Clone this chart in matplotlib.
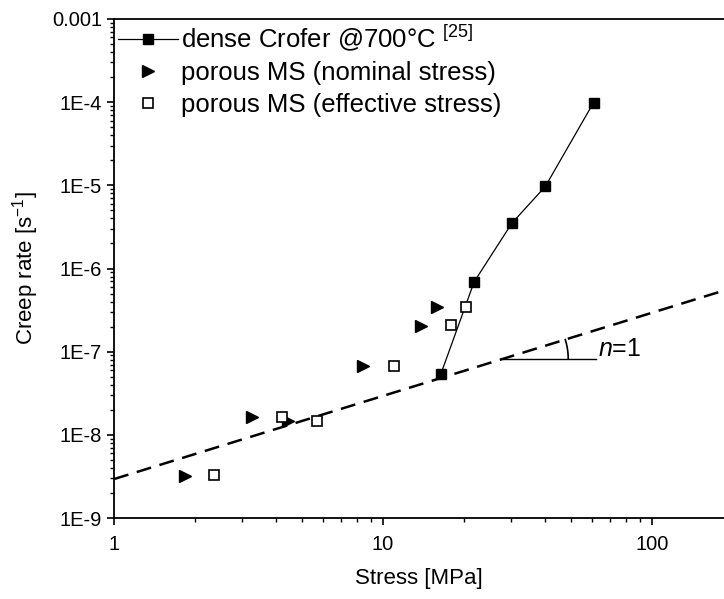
import numpy as np
import matplotlib
matplotlib.use('Agg', force=True)
import matplotlib.pyplot as plt
from matplotlib.ticker import LogLocator, FuncFormatter, NullFormatter

plt.rcParams['font.family'] = ['Liberation Sans', 'DejaVu Sans']
plt.rcParams['mathtext.fontset'] = 'custom'
plt.rcParams['mathtext.rm'] = 'Liberation Sans'
plt.rcParams['mathtext.it'] = 'Liberation Sans:italic'

# dense Crofer @700C (literature)
dense_stress = [16.4, 21.8, 30.1, 40.1, 60.6]
dense_rate = [5.4e-8, 6.9e-7, 3.5e-6, 9.7e-6, 9.9e-5]

# porous MS, nominal stress
nom_stress = [1.84, 3.26, 4.43, 8.43, 13.8, 15.8]
nom_rate = [3.2e-9, 1.64e-8, 1.47e-8, 6.7e-8, 2.05e-7, 3.4e-7]

# porous MS, effective stress
eff_stress = [2.35, 4.21, 5.69, 11.0, 17.9, 20.3]
eff_rate = [3.3e-9, 1.64e-8, 1.47e-8, 6.7e-8, 2.1e-7, 3.4e-7]

# n=1 guide line: rate = k * stress
n1_k = 2.94e-9
n1_stress = [1.0, 185.0]

x_ticks = [1, 10, 100]
y_ticks = [1e-9, 1e-8, 1e-7, 1e-6, 1e-5, 1e-4, 1e-3]
y_ticklabels = ['1E-9', '1E-8', '1E-7', '1E-6', '1E-5', '1E-4', '0.001']

fig = plt.figure(figsize=(7.24, 5.99), dpi=100)
ax = fig.add_axes([0.1575, 0.1352, 0.8425, 0.8331])
ax.set_xscale('log')
ax.set_yscale('log')
ax.set_xlim(1, 185)
ax.set_ylim(1e-9, 1e-3)

# dashed n=1 line
xs = np.array(n1_stress)
ax.plot(xs, n1_k * xs, color='black', lw=1.8, ls=(0, (6, 3.5)), zorder=1)

ax.plot(dense_stress, dense_rate, color='black', lw=0.9, marker='s', ms=7.5,
        mfc='black', mec='black', label='dense Crofer @700°C $^{\\mathrm{[25]}}$', zorder=3)
ax.plot(nom_stress, nom_rate, ls='none', marker='>', ms=9, color='black',
        label='porous MS (nominal stress)', zorder=3)
ax.plot(eff_stress, eff_rate, ls='none', marker='s', ms=7, mfc='white',
        mec='black', mew=1.2, label='porous MS (effective stress)', zorder=3)

# slope annotation
y0 = 8.15e-8
x0 = y0 / n1_k
ax.plot([x0, 62], [y0, y0], color='black', lw=1.0)
r = 66.0  # pixels
t = np.linspace(0, np.arctan(83.2 / 269.0), 30)
lx = np.log10(x0) + r / 269.0 * np.cos(t)
ly = np.log10(y0) + r / 83.2 * np.sin(t)
ax.plot(10 ** lx, 10 ** ly, color='black', lw=1.2)
ax.text(63, 1.07e-7, '$n$=1', fontsize=18, va='center', ha='left')

ax.set_xticks(x_ticks)
ax.xaxis.set_major_formatter(FuncFormatter(lambda v, p: '%g' % v))
ax.xaxis.set_minor_locator(LogLocator(base=10, subs=np.arange(2, 10)))
ax.xaxis.set_minor_formatter(NullFormatter())
ax.set_yticks(y_ticks)
ax.set_yticklabels(y_ticklabels)
ax.yaxis.set_minor_locator(LogLocator(base=10, subs=np.arange(2, 10)))
ax.yaxis.set_minor_formatter(NullFormatter())

ax.tick_params(which='major', direction='out', length=5, width=1.2, labelsize=14.5)
ax.tick_params(axis='x', which='major', pad=7)
ax.tick_params(which='minor', direction='out', length=3, width=1.0)
ax.spines['right'].set_visible(False)
for s in ['left', 'bottom', 'top']:
    ax.spines[s].set_linewidth(1.3)

ax.set_xlabel('Stress [MPa]', fontsize=16, labelpad=10)
ax.set_ylabel('Creep rate [s$^{\\mathrm{-1}}$]', fontsize=16, labelpad=8)

ax.legend(loc='upper left', frameon=False, fontsize=18.5, handlelength=2.35,
          handletextpad=0.1, borderaxespad=0.0, borderpad=0.15,
          labelspacing=0.3, bbox_to_anchor=(0.0, 1.0))

fig.savefig('out.png', dpi=100)
